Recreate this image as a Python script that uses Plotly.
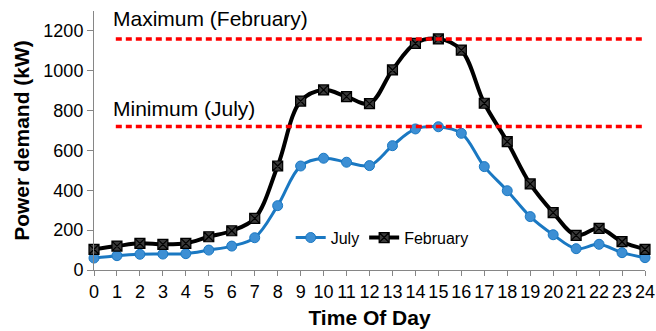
import plotly.graph_objects as go

# Hourly power demand (kW)
hours = list(range(25))
july = [60, 72, 79, 80, 82, 100, 120, 162, 323, 522, 561, 541, 524, 624, 708, 719,
        686, 519, 398, 268, 177, 107, 129, 87, 62]
february = [104, 120, 134, 129, 134, 167, 197, 259, 522, 848, 904, 870, 835, 1004,
            1138, 1160, 1104, 837, 644, 432, 288, 174, 209, 142, 104]

max_feb = 1160
min_jul = 720
ref_start, ref_end = 0.95, 24.1

font = "Liberation Sans, Arial, sans-serif"
axis_grey = "#868686"

fig = go.Figure()

fig.add_trace(go.Scatter(
    x=hours, y=july, name="July", mode="lines+markers",
    line=dict(color="#1a78c2", width=3, shape="spline", smoothing=1),
    marker=dict(symbol="circle", size=10, color="#3d8fd4",
                line=dict(color="#1a78c2", width=1)),
    cliponaxis=False,
))
fig.add_trace(go.Scatter(
    x=hours, y=february, name="February", mode="lines+markers",
    line=dict(color="#000000", width=4, shape="spline", smoothing=1),
    marker=dict(symbol="square-x", size=10, color="#3a3a3a",
                line=dict(color="#000000", width=1.2)),
    cliponaxis=False,
))

# Reference levels
for level in (max_feb, min_jul):
    fig.add_shape(type="line", xref="x", yref="y", x0=ref_start, x1=ref_end,
                  y0=level, y1=level,
                  line=dict(color="#ff0000", width=3.5, dash="6px,4px"))

fig.add_annotation(x=ref_start - 0.2, y=1260, xref="x", yref="y", text="Maximum (February)",
                   showarrow=False, xanchor="left", yanchor="middle",
                   font=dict(family=font, size=21, color="#000000"))
fig.add_annotation(x=ref_start - 0.2, y=812, xref="x", yref="y", text="Minimum (July)",
                   showarrow=False, xanchor="left", yanchor="middle",
                   font=dict(family=font, size=21, color="#000000"))

fig.update_layout(
    width=656, height=331,
    margin=dict(l=94, r=11, t=11, b=61),
    paper_bgcolor="white", plot_bgcolor="white",
    font=dict(family=font, color="#000000"),
    showlegend=True,
    legend=dict(orientation="h", x=0.357, y=0.125, xanchor="left", yanchor="middle",
                bgcolor="rgba(0,0,0,0)", font=dict(size=16, family=font),
                tracegroupgap=0),
    xaxis=dict(range=[0, 24], tickmode="array", tickvals=hours,
               ticktext=[str(h) for h in hours], tickangle=0, automargin=False,
               showline=True, linecolor=axis_grey, linewidth=1,
               ticks="outside", ticklen=5, tickcolor=axis_grey,
               showgrid=False, zeroline=False,
               tickfont=dict(size=18, family=font),
               title=dict(text="<b>Time Of Day</b>", font=dict(size=21, family=font),
                          standoff=9)),
    yaxis=dict(range=[0, 1300], tickmode="linear", tick0=0, dtick=200, automargin=False,
               showline=True, linecolor=axis_grey, linewidth=1,
               ticks="outside", ticklen=6, tickcolor=axis_grey,
               showgrid=False, zeroline=False,
               tickfont=dict(size=18, family=font),
               title=dict(text="<b>Power demand (kW)</b>", font=dict(size=21, family=font),
                          standoff=8)),
)

fig.write_html("out.html")
